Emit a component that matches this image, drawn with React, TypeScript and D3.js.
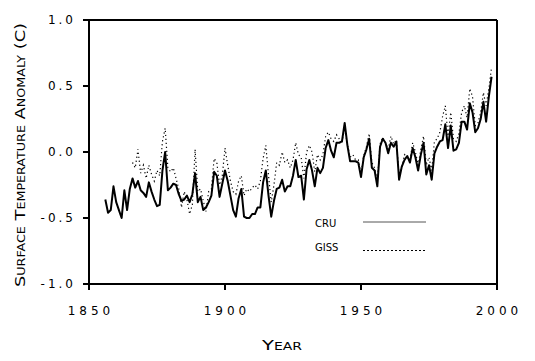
import React from 'react';
import { scaleLinear, line } from 'd3';

// annual global surface temperature anomalies (C)
const cruStart = 1856;
const cruValues = [
  -0.36, -0.46, -0.44, -0.26, -0.38, -0.44, -0.50, -0.29, -0.44, -0.28,
  -0.20, -0.27, -0.22, -0.29, -0.31, -0.34, -0.23, -0.30, -0.36, -0.41,
  -0.40, -0.14, 0.00, -0.29, -0.27, -0.24, -0.25, -0.32, -0.37, -0.36,
  -0.33, -0.38, -0.32, -0.16, -0.38, -0.34, -0.44, -0.42, -0.38, -0.33,
  -0.15, -0.18, -0.34, -0.24, -0.14, -0.22, -0.33, -0.44, -0.49, -0.35,
  -0.28, -0.49, -0.50, -0.50, -0.47, -0.47, -0.42, -0.42, -0.23, -0.14,
  -0.33, -0.49, -0.37, -0.28, -0.27, -0.21, -0.30, -0.26, -0.26, -0.18,
  -0.06, -0.19, -0.18, -0.36, -0.13, -0.06, -0.14, -0.26, -0.12, -0.16,
  -0.12, 0.03, 0.09, 0.01, -0.04, 0.07, 0.07, 0.08, 0.22, 0.05,
  -0.07, -0.07, -0.07, -0.08, -0.19, -0.04, 0.02, 0.10, -0.12, -0.14,
  -0.26, 0.04, 0.10, 0.07, -0.01, 0.07, 0.04, 0.08, -0.21, -0.11,
  -0.06, -0.03, -0.08, 0.03, -0.04, -0.14, -0.02, 0.07, -0.17, -0.10,
  -0.21, -0.01, 0.04, 0.08, 0.09, 0.21, 0.03, 0.20, 0.01, 0.02,
  0.07, 0.23, 0.23, 0.17, 0.37, 0.30, 0.15, 0.18, 0.25, 0.38,
  0.23, 0.42, 0.57,
];

const gissStart = 1866;
const gissValues = [
  -0.08, -0.12, 0.02, -0.16, -0.10, -0.20, -0.10, -0.17, -0.22, -0.14,
  -0.18, 0.08, 0.18, -0.12, -0.15, -0.12, -0.20, -0.28, -0.42, -0.30,
  -0.36, -0.47, -0.40, 0.02, -0.30, -0.28, -0.37, -0.45, -0.30, -0.28,
  -0.05, -0.08, -0.25, -0.18, 0.03, -0.10, -0.22, -0.30, -0.32, -0.22,
  -0.18, -0.33, -0.28, -0.30, -0.27, -0.25, -0.28, -0.22, -0.05, 0.05,
  -0.18, -0.38, -0.25, -0.08, -0.10, 0.00, -0.08, -0.06, -0.12, -0.06,
  0.07, -0.02, -0.04, -0.20, 0.00, 0.05, 0.00, -0.15, -0.02, -0.06,
  -0.02, 0.12, 0.15, 0.10, 0.08, 0.13, 0.10, 0.08, 0.18, 0.06,
  -0.04, -0.02, -0.06, -0.06, -0.16, -0.03, 0.04, 0.14, -0.08, -0.12,
  -0.22, 0.06, 0.11, 0.07, 0.02, 0.12, 0.06, 0.09, -0.18, -0.12,
  -0.02, -0.04, -0.06, 0.07, 0.00, -0.10, 0.02, 0.12, -0.10, -0.04,
  -0.14, 0.08, 0.10, 0.15, 0.27, 0.35, 0.12, 0.30, 0.10, 0.08,
  0.14, 0.30, 0.35, 0.26, 0.48, 0.42, 0.20, 0.22, 0.30, 0.45,
  0.35, 0.48, 0.64,
];

const xTicks = [1850, 1900, 1950, 2000];
const yTicks = [-1.0, -0.5, 0.0, 0.5, 1.0];

const font = '"DejaVu Sans", Verdana, sans-serif';

export default function App() {
  const left = 89, right = 497, top = 20, bottom = 284;
  const x = scaleLinear().domain([1850, 2000]).range([left, right]);
  const y = scaleLinear().domain([-1, 1]).range([bottom, top]);

  const cru = cruValues.map((v, i) => [cruStart + i, v] as [number, number]);
  const giss = gissValues.map((v, i) => [gissStart + i, v] as [number, number]);
  const path = line<[number, number]>().x(d => x(d[0])).y(d => y(d[1]));

  return (
    <svg width={535} height={361} style={{ position: 'absolute', left: 0, top: 0, background: '#fff' }}>
      <rect width={535} height={361} fill="#fff" />
      {/* frame */}
      <g stroke="#000" strokeWidth={2} fill="none">
        <line x1={left} y1={top} x2={right} y2={top} />
        <line x1={right} y1={top} x2={right} y2={bottom + 6} />
        <line x1={left} y1={top} x2={left} y2={bottom + 6} />
        <line x1={left} y1={bottom} x2={right} y2={bottom} />
      </g>
      {yTicks.map(t => (
        <g key={t}>
          <line x1={left - 6} x2={left} y1={y(t)} y2={y(t)} stroke="#000" strokeWidth={2} />
          <text x={76} y={y(t)} dy="0.36em" textAnchor="end" fontFamily={font} fontSize={12} letterSpacing={3}>
            {t.toFixed(1)}
          </text>
        </g>
      ))}
      {xTicks.map(t => (
        <g key={t}>
          <line x1={x(t)} x2={x(t)} y1={bottom} y2={bottom + 6} stroke="#000" strokeWidth={2} />
          <text x={x(t) + 2} y={315} textAnchor="middle" fontFamily={font} fontSize={12} letterSpacing={4}>
            {t}
          </text>
        </g>
      ))}
      <path d={path(giss) ?? ''} fill="none" stroke="#000" strokeWidth={1.2} strokeDasharray="1.2,2.8" />
      <path d={path(cru) ?? ''} fill="none" stroke="#000" strokeWidth={2} strokeLinejoin="round" />
      {/* legend */}
      <text x={315} y={227} fontFamily={font} fontSize={10}>CRU</text>
      <line x1={363} x2={426} y1={222} y2={222} stroke="#555" strokeWidth={1} />
      <text x={315} y={251} fontFamily={font} fontSize={10}>GISS</text>
      <line x1={363} x2={426} y1={250.5} y2={250.5} stroke="#000" strokeWidth={1} strokeDasharray="2,2" />
      {/* axis titles */}
      <text x={262} y={350} fontFamily={font} fontSize={14} style={{ fontVariant: 'small-caps' }}
        textLength={40} lengthAdjust="spacingAndGlyphs">
        Year
      </text>
      <text transform="translate(25,287) rotate(-90)" fontFamily={font} fontSize={14}
        style={{ fontVariant: 'small-caps' }} textLength={264} lengthAdjust="spacingAndGlyphs">
        Surface Temperature Anomaly (C)
      </text>
    </svg>
  );
}
